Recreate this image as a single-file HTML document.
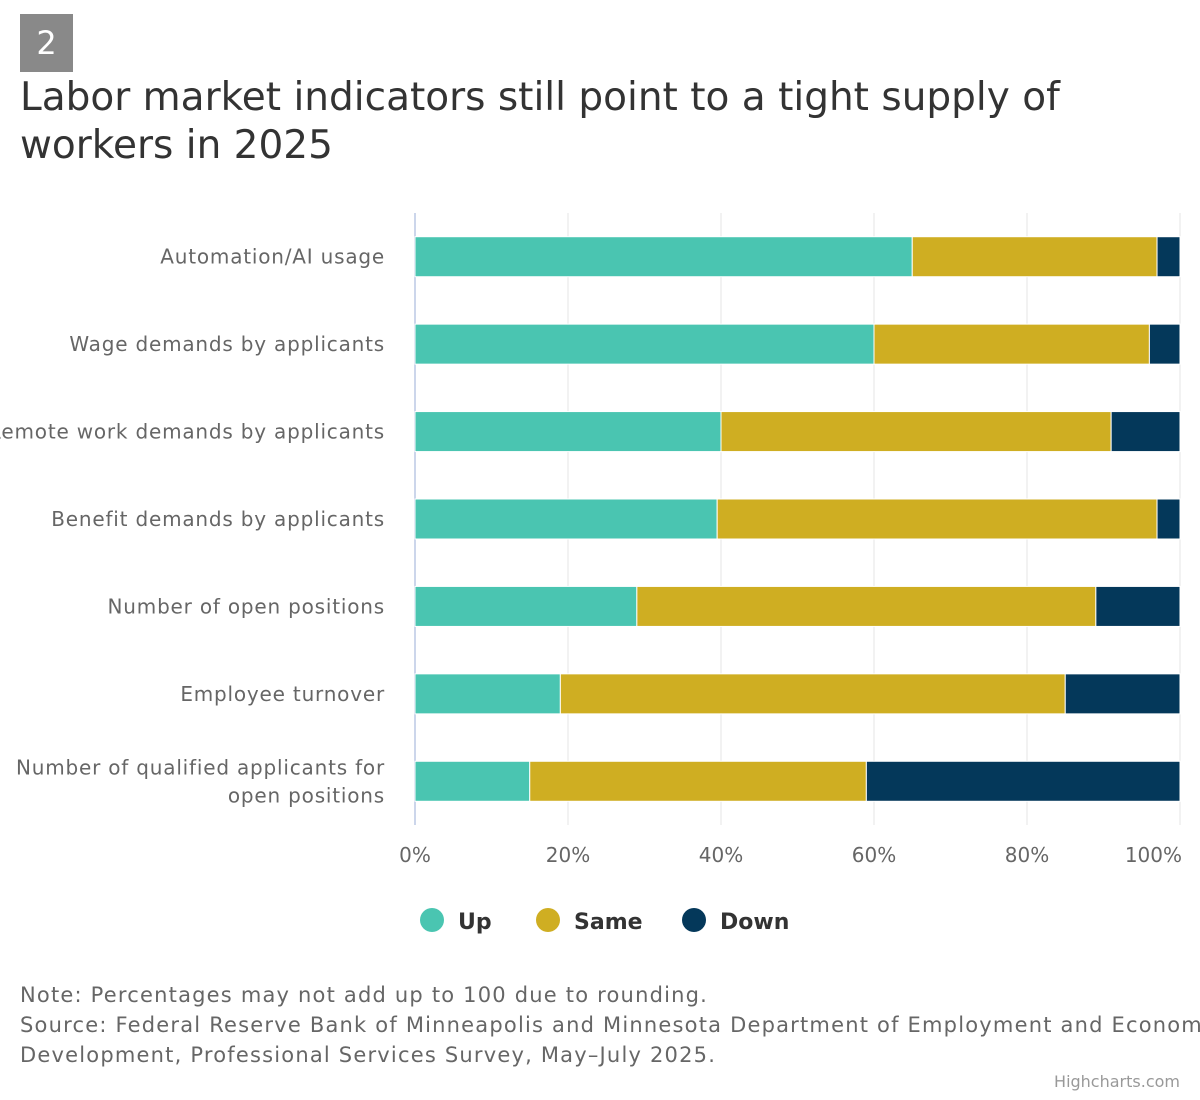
<!DOCTYPE html>
<html><head><meta charset="utf-8"><style>
body{margin:0;width:1200px;height:1100px;background:#fff;font-family:"DejaVu Sans","Liberation Sans",sans-serif;overflow:hidden;position:relative}
.badge{position:absolute;left:20px;top:14px;width:53px;height:58px;background:#898989;color:#fff;font-size:32px;text-align:center;line-height:58px}
.title{position:absolute;left:20px;top:74px;font-size:39px;line-height:48px;color:#333;width:1160px}
.note{position:absolute;left:20px;top:980px;font-size:21px;line-height:30px;color:#666;white-space:nowrap;letter-spacing:1.2px}
.credit{position:absolute;right:20px;top:1072px;font-size:16px;color:#999}
svg text.cat{letter-spacing:0.8px}
</style></head><body>
<div class="badge">2</div>
<div class="title">Labor market indicators still point to a tight supply of workers in 2025</div>
<svg id="chart" width="1200" height="1100" style="position:absolute;left:0;top:0"></svg>
<div class="note">Note: Percentages may not add up to 100 due to rounding.<br>Source: Federal Reserve Bank of Minneapolis and Minnesota Department of Employment and Economic<br>Development, Professional Services Survey, May–July 2025.</div>
<div class="credit">Highcharts.com</div>
<script>
const categories=[["Automation/AI usage"],["Wage demands by applicants"],["Remote work demands by applicants"],["Benefit demands by applicants"],["Number of open positions"],["Employee turnover"],["Number of qualified applicants for","open positions"]];
const upVals=[65,60,40,39.5,29,19,15];
const sameVals=[32,36,51,57.5,60,66,44];
const downVals=[3,4,9,3,11,15,41];
const tickLabels=["0%","20%","40%","60%","80%","100%"];
const tickVals=[0,20,40,60,80,100];
const seriesNames=["Up","Same","Down"];
const colors=["#4ac5b1","#cfae22","#04385a"];
const NS="http://www.w3.org/2000/svg";
const svg=document.getElementById('chart');
const x0=415,x1=1180,yTop=213,yBot=825;
const xs=v=>x0+(x1-x0)*v/100;
const band=(yBot-yTop)/categories.length;
const yc=i=>yTop+band*(i+0.5);
function mk(t,a){const e=document.createElementNS(NS,t);for(const k in a)e.setAttribute(k,a[k]);svg.appendChild(e);return e;}
tickVals.forEach((v,i)=>{
  const g=mk('line',{x1:xs(v),x2:xs(v),y1:yTop,y2:yBot,stroke:i==0?'#ccd6eb':'#e6e6e6','stroke-width':i==0?2:1});
  
  
  const last=i==tickVals.length-1;
  const t=mk('text',{x:last?xs(v)+2:xs(v),y:862,'text-anchor':last?'end':'middle','font-size':20,fill:'#666'});
  t.textContent=tickLabels[i];
  
  
});
const series=[upVals,sameVals,downVals];
categories.forEach((c,i)=>{
  const lab=mk('text',{x:385,'text-anchor':'end','font-size':20,fill:'#666','class':'cat'});
  
  
  c.forEach((line,j)=>{const ts=document.createElementNS(NS,'tspan');ts.setAttribute('x',385);ts.setAttribute('y',yc(i)+7+(j-(c.length-1)/2)*28);ts.textContent=line;lab.appendChild(ts);});
  const tot=upVals[i]+sameVals[i]+downVals[i];
  let acc=0;
  series.forEach((s,k)=>{
    const v=s[i]/tot*100;
    const r=mk('rect',{x:xs(acc),y:yc(i)-20,width:xs(acc+v)-xs(acc),height:40,fill:colors[k],stroke:'#fff','stroke-width':1});
    
    
    acc+=v;
  });
});
const lx=[432,548,694];
seriesNames.forEach((n,k)=>{
  const c=mk('circle',{cx:lx[k],cy:920,r:12,fill:colors[k]});
  
  
  const t=mk('text',{x:lx[k]+26,y:929,'font-size':22,'font-weight':'bold',fill:'#333'});
  t.textContent=n;
  
  
});
</script>
</body></html>
